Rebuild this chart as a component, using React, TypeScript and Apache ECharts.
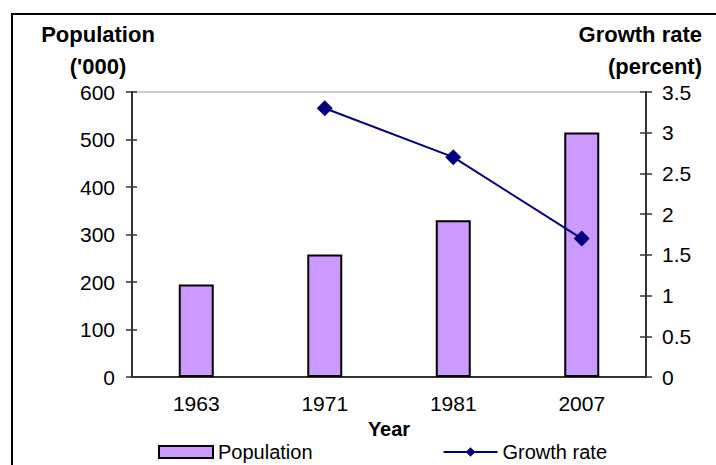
import React, { useEffect, useRef } from "react";
import * as echarts from "echarts";

const years = ["1963", "1971", "1981", "2007"];
const population = [195, 258, 330, 515];
const growthRate = [null, 3.3, 2.7, 1.7];
const leftTitle = ["Population", "('000)"];
const rightTitle = ["Growth rate", "(percent)"];
const xTitle = "Year";

export default function App() {
  const ref = useRef<HTMLDivElement>(null);
  useEffect(() => {
    if (!ref.current) return;
    const chart = echarts.init(ref.current, undefined, { renderer: "svg" });
    const font = "'Liberation Sans', Arial, sans-serif";
    const axisColor = "#333333";
    chart.setOption({
      animation: false,
      backgroundColor: "#ffffff",
      textStyle: { fontFamily: font },
      grid: {
        left: 132,
        right: 70,
        top: 92,
        bottom: 88,
        show: true,
        borderColor: "#a0a0a0",
        borderWidth: 1,
      },
      legend: {
        left: 153,
        top: 437,
        itemWidth: 54,
        itemHeight: 12,
        itemGap: 130,
        textStyle: { fontSize: 20, color: "#000", fontFamily: font },
        data: [
          { name: "Population", icon: "rect" },
          { name: "Growth rate" },
        ],
      },
      xAxis: [
        {
          type: "category",
          data: years,
          boundaryGap: true,
          name: xTitle,
          nameLocation: "middle",
          nameGap: 39,
          nameTextStyle: { fontSize: 20, fontWeight: "bold", color: "#000", fontFamily: font },
          axisLine: { lineStyle: { color: axisColor, width: 2 } },
          axisTick: { length: 5, lineStyle: { color: axisColor, width: 1.5 } },
          axisLabel: { fontSize: 21, color: "#000", margin: 16, fontFamily: font },
          splitLine: { show: false },
        },
        {
          type: "category",
          data: years,
          position: "bottom",
          boundaryGap: true,
          axisLine: { show: false },
          axisTick: { inside: true, length: 6, lineStyle: { color: axisColor, width: 1.5 } },
          axisLabel: { show: false },
          splitLine: { show: false },
        },
      ],
      yAxis: [
        {
          type: "value",
          min: 0,
          max: 600,
          interval: 100,
          position: "left",
          axisLine: { show: true, lineStyle: { color: axisColor, width: 2 } },
          axisTick: { show: true, length: 6, lineStyle: { color: axisColor, width: 1.5 } },
          axisLabel: { fontSize: 21, color: "#000", margin: 17, fontFamily: font },
          splitLine: { show: false },
        },
        {
          type: "value",
          min: 0,
          max: 3.5,
          interval: 0.5,
          position: "right",
          axisLine: { show: true, lineStyle: { color: axisColor, width: 2 } },
          axisTick: { show: true, length: 6, lineStyle: { color: axisColor, width: 1.5 } },
          axisLabel: { fontSize: 21, color: "#000", margin: 16, fontFamily: font },
          splitLine: { show: false },
        },
        {
          type: "value",
          min: 0,
          max: 600,
          interval: 100,
          position: "left",
          axisLine: { show: false },
          axisTick: { show: true, inside: true, length: 5, lineStyle: { color: axisColor, width: 1.5 } },
          axisLabel: { show: false },
          splitLine: { show: false },
        },
        {
          type: "value",
          min: 0,
          max: 3.5,
          interval: 0.5,
          position: "right",
          axisLine: { show: false },
          axisTick: { show: true, inside: true, length: 6, lineStyle: { color: axisColor, width: 1.5 } },
          axisLabel: { show: false },
          splitLine: { show: false },
        },
      ],
      series: [
        {
          name: "Population",
          type: "bar",
          data: population,
          barWidth: 35,
          xAxisIndex: 0,
          yAxisIndex: 0,
          itemStyle: { color: "#CC99FF", borderColor: "#000000", borderWidth: 2 },
        },
        {
          name: "Growth rate",
          type: "line",
          data: growthRate,
          xAxisIndex: 0,
          yAxisIndex: 1,
          symbol: "diamond",
          symbolSize: 16,
          lineStyle: { color: "#000080", width: 2 },
          itemStyle: { color: "#000080" },
        },
      ],
      graphic: [
        {
          type: "rect",
          shape: { x: 12, y: 14, width: 1000, height: 1000 },
          style: { fill: "none", stroke: "#000", lineWidth: 2 },
          silent: true,
        },
        {
          type: "text",
          x: 98,
          y: 34,
          style: { text: leftTitle[0], font: `bold 22px ${font}`, fill: "#000", textAlign: "center", textVerticalAlign: "middle" },
        },
        {
          type: "text",
          x: 98,
          y: 66,
          style: { text: leftTitle[1], font: `bold 22px ${font}`, fill: "#000", textAlign: "center", textVerticalAlign: "middle" },
        },
        {
          type: "text",
          x: 702,
          y: 34,
          style: { text: rightTitle[0], font: `bold 22px ${font}`, fill: "#000", textAlign: "right", textVerticalAlign: "middle" },
        },
        {
          type: "text",
          x: 702,
          y: 66,
          style: { text: rightTitle[1], font: `bold 22px ${font}`, fill: "#000", textAlign: "right", textVerticalAlign: "middle" },
        },
      ],
    });
    return () => chart.dispose();
  }, []);
  return (
    <div
      ref={ref}
      style={{ position: "fixed", left: 0, top: 0, width: 716, height: 465, background: "#fff" }}
    />
  );
}
